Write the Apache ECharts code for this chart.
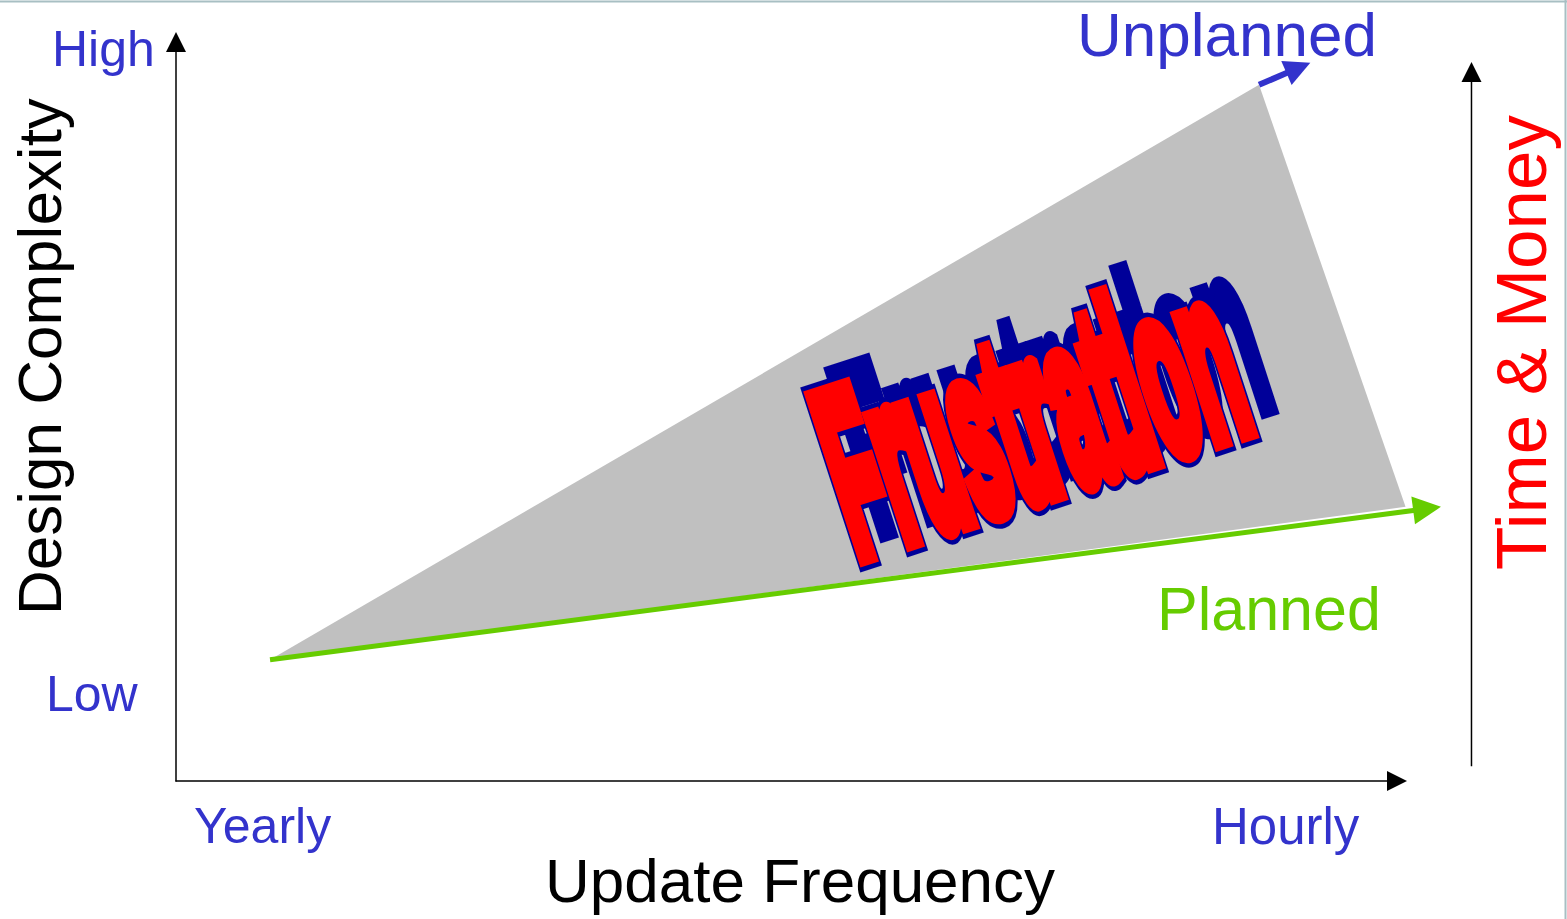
<!DOCTYPE html>
<html>
<head>
<meta charset="utf-8">
<style>
  html, body { margin: 0; padding: 0; background: #ffffff; }
  #chart { width: 1567px; height: 919px; }
</style>
<script src="https://cdn.jsdelivr.net/npm/echarts@6/dist/echarts.min.js"></script>
</head>
<body>
<div id="chart"></div>
<script>
// ---- Data (conceptual units: both axes 0..100) ----
const xTickLabels = ['Yearly', 'Hourly'];
const yTickLabels = ['Low', 'High'];
const xAxisTitle = 'Update Frequency';
const yAxisTitle = 'Design Complexity';
const rightAxisTitle = 'Time & Money';
const seriesNames = ['Unplanned', 'Planned'];
const centerWord = 'Frustration';

const startPoint = [7.7, 16.4];          // shared start (Yearly, Low)
const unplannedPeak = [88.7, 94.2];      // top of the unplanned edge
const unplannedTip = [92.9, 97.2];       // tip of the blue arrow
const frustrationCorner = [100.7, 37.1]; // lower-right corner of grey area
const plannedTip = [103.6, 37.1];        // tip of the green arrow
const timeMoneyBase = [106.1, 2.0];      // right-hand axis bottom
const timeMoneyTip = [106.1, 97.3];      // right-hand axis arrow tip

const frustrationArea = [startPoint, unplannedPeak, frustrationCorner];
const arrowSegments = [
  [...startPoint, ...plannedTip],
  [...unplannedPeak, ...unplannedTip],
  [...timeMoneyBase, ...timeMoneyTip]
];

// ---- Styles ----
const BLUE = '#3333CC', GREEN = '#66CC00', RED = '#FF0000', NAVY = '#000099';
const arrowStyles = [
  { color: GREEN, width: 5, headLen: 28, headW: 28 },
  { color: BLUE, width: 6, headLen: 26, headW: 26 },
  { color: '#000000', width: 1.5, headLen: 20, headW: 20 }
];
const FONT = '"Liberation Sans", Arial, sans-serif';

const chart = echarts.init(document.getElementById('chart'), null, { renderer: 'svg' });

function txt(text, x, y, size, color, extra) {
  return Object.assign({
    type: 'text', x: x, y: y, silent: true, z: 20,
    style: { text: text, fontSize: size, fontFamily: FONT, fill: color, align: 'left', verticalAlign: 'middle' }
  }, extra || {});
}

function frustrationText(dx, dy, color, lw, z) {
  return {
    type: 'group', x: 1031 + dx, y: 414 + dy, rotation: 18 * Math.PI / 180, silent: true, z: z,
    children: [{
      type: 'text', scaleX: 0.8, scaleY: 2.35, z: z,
      style: {
        text: centerWord, fontSize: 100, fontFamily: '"Liberation Sans", sans-serif', fontWeight: 'bold',
        fill: color, stroke: color, lineWidth: lw, strokeNoScale: true, lineJoin: 'round',
        align: 'center', verticalAlign: 'middle'
      }
    }]
  };
}

const option = {
  animation: false,
  backgroundColor: '#ffffff',
  grid: { left: 176, right: 170, top: 42, bottom: 138, containLabel: false },
  xAxis: {
    type: 'value', min: 0, max: 100,
    axisLine: { show: true, onZero: false, symbol: ['none', 'triangle'], symbolSize: [20, 20], lineStyle: { color: '#000', width: 1.5 } },
    axisTick: { show: false }, axisLabel: { show: false }, splitLine: { show: false }
  },
  yAxis: {
    type: 'value', min: 0, max: 100,
    axisLine: { show: true, onZero: false, symbol: ['none', 'triangle'], symbolSize: [20, 20], lineStyle: { color: '#000', width: 1.5 } },
    axisTick: { show: false }, axisLabel: { show: false }, splitLine: { show: false }
  },
  series: [
    {
      type: 'custom', name: 'Frustration area', clip: false, silent: true,
      data: frustrationArea,
      renderItem: function (params, api) {
        if (params.dataIndex !== 0) return null;
        const pts = frustrationArea.map(p => api.coord(p));
        return { type: 'polygon', shape: { points: pts }, style: { fill: '#C0C0C0', stroke: null } };
      },
      z: 1
    },
    {
      type: 'custom', name: 'Arrows', clip: false, silent: true,
      data: arrowSegments,
      renderItem: function (params, api) {
        const p1 = api.coord([api.value(0), api.value(1)]);
        const p2 = api.coord([api.value(2), api.value(3)]);
        const st = arrowStyles[params.dataIndex];
        const dx = p2[0] - p1[0], dy = p2[1] - p1[1];
        const len = Math.hypot(dx, dy);
        const ux = dx / len, uy = dy / len, nx = -uy, ny = ux;
        const bx = p2[0] - ux * st.headLen, by = p2[1] - uy * st.headLen;
        return {
          type: 'group', children: [
            { type: 'line', shape: { x1: p1[0], y1: p1[1], x2: bx + ux * 2, y2: by + uy * 2 }, style: { stroke: st.color, lineWidth: st.width } },
            { type: 'polygon', shape: { points: [[p2[0], p2[1]], [bx + nx * st.headW / 2, by + ny * st.headW / 2], [bx - nx * st.headW / 2, by - ny * st.headW / 2]] }, style: { fill: st.color } }
          ]
        };
      },
      z: 3
    }
  ],
  graphic: [
    { type: 'line', z: 20, shape: { x1: 0, y1: 1.5, x2: 1567, y2: 1.5 }, style: { stroke: '#A8BFC3', lineWidth: 2 }, silent: true },
    { type: 'line', z: 20, shape: { x1: 1565.5, y1: 0, x2: 1565.5, y2: 919 }, style: { stroke: '#A8BFC3', lineWidth: 2 }, silent: true },
    txt(yTickLabels[1], 52, 49, 50, BLUE),
    txt(yTickLabels[0], 46, 694, 50, BLUE),
    txt(xTickLabels[0], 194, 826, 50, BLUE),
    txt(xTickLabels[1], 1212, 826, 51, BLUE),
    txt(xAxisTitle, 545, 880, 62, '#000000'),
    txt(yAxisTitle, 39, 615, 62, '#000000', { rotation: Math.PI / 2 }),
    txt(rightAxisTitle, 1521, 570, 71, RED, { rotation: Math.PI / 2 }),
    txt(seriesNames[0], 1077, 34, 62, BLUE),
    txt(seriesNames[1], 1157, 609, 61, GREEN),
    frustrationText(20, -24, NAVY, 10, 30),
    frustrationText(0, 0, NAVY, 14, 31),
    frustrationText(0, 0, RED, 10, 32)
  ]
};
chart.setOption(option);
</script>
</body>
</html>
